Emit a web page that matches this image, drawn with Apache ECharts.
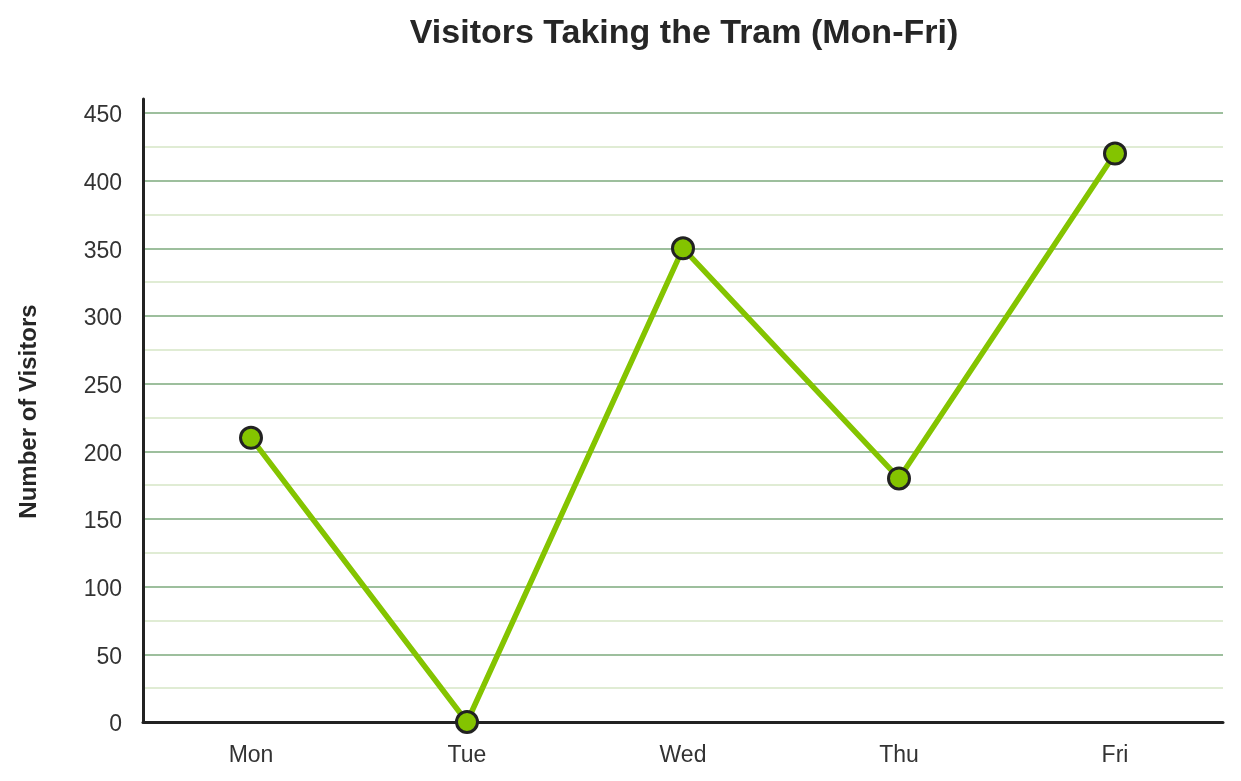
<!DOCTYPE html>
<html><head><meta charset="utf-8">
<script src="https://cdn.jsdelivr.net/npm/echarts@6/dist/echarts.min.js"></script>
<style>html,body{margin:0;padding:0;background:#fff}#c{width:1241px;height:781px}</style>
</head><body><div id="c"></div>
<script>
const days = ['Mon', 'Tue', 'Wed', 'Thu', 'Fri'];
const visitors = [210, 0, 350, 180, 420];
const yMin = 0, yMax = 450, yStep = 50;
const titleText = 'Visitors Taking the Tram (Mon-Fri)';
const yName = 'Number of Visitors';

const font = 'Liberation Sans, Arial, sans-serif';
const chart = echarts.init(document.getElementById('c'));
chart.setOption({
  animation: false,
  backgroundColor: '#fff',
  title: {
    text: titleText, left: 679, top: 12, textAlign: 'center',
    textStyle: { fontFamily: font, fontSize: 34, fontWeight: 'bold', color: '#262626' }
  },
  grid: [
    { left: 143, right: 18, top: 113, bottom: 59 },
    { left: 143, right: 18, top: 99, bottom: 59 }
  ],
  xAxis: [
    { type: 'category', data: days, gridIndex: 0, boundaryGap: true,
      axisLine: { lineStyle: { color: '#222', width: 3 } },
      axisTick: { show: false },
      axisLabel: { fontFamily: font, fontSize: 23, color: '#333', margin: 22 } },
    { type: 'category', data: days, gridIndex: 1, show: false }
  ],
  yAxis: [
    { type: 'value', gridIndex: 0, min: yMin, max: yMax, interval: yStep,
      name: yName, nameLocation: 'middle', nameGap: 102,
      nameTextStyle: { fontFamily: font, fontSize: 24, fontWeight: 'bold', color: '#262626', padding: [0, 0, 0, 12] },
      axisLine: { show: false },
      axisTick: { show: false },
      axisLabel: { margin: 21, formatter: v => '{a|' + v + '}',
        rich: { a: { fontFamily: font, fontSize: 23, color: '#333', padding: [6, 0, 0, 0] } } },
      splitLine: { lineStyle: { color: '#9dbf9d', width: 2 } },
      minorTick: { show: false, splitNumber: 2 },
      minorSplitLine: { show: true, lineStyle: { color: '#e0ecd4', width: 2 } } },
    { type: 'value', gridIndex: 1, min: 0, max: 1,
      axisLine: { show: true, lineStyle: { color: '#222', width: 3 } },
      axisTick: { show: false }, axisLabel: { show: false }, splitLine: { show: false } }
  ],
  series: [{
    type: 'line', data: visitors, xAxisIndex: 0, yAxisIndex: 0,
    lineStyle: { color: '#84c400', width: 5.5 },
    symbol: 'circle', symbolSize: 21,
    itemStyle: { color: '#84c400', borderColor: '#222', borderWidth: 3 },
    z: 5
  }]
});
</script></body></html>
